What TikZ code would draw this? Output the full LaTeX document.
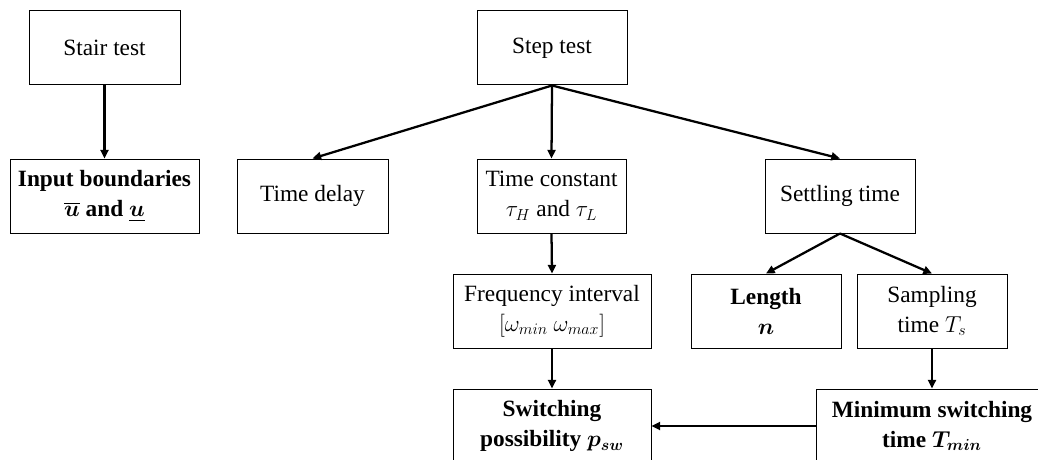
\documentclass[tikz,border=0pt]{standalone}
\usepackage{amsmath}
\usepackage{fontspec}
\setmainfont{Liberation Serif}
\usetikzlibrary{arrows.meta}
\tikzset{
  bx/.style={draw, line width=0.75pt, minimum width=#1*0.75pt, minimum height=55.5pt,
    inner sep=0pt, align=center, font=\fontsize{17.5pt}{22.5pt}\selectfont},
  arr/.style={line width=1.7pt, -{Triangle[length=6.5pt,width=6pt]}}
}
\begin{document}
\begin{tikzpicture}[x=0.75pt, y=-0.75pt]
\clip (0,0) rectangle (1038,460);
% top row
\node[bx=151] (stair) at (104.5,48) {Stair test};
\node[bx=150] (step) at (552,48) {Step test};
% second row
\node[bx=189] (input) at (104.5,196) {\textbf{Input boundaries}\\$\overline{\boldsymbol{u}}$ \textbf{and} $\underline{\boldsymbol{u}}$};
\node[bx=151] (delay) at (312.5,196) {Time delay};
\node[bx=149] (const) at (551.5,196) {Time constant\\$\tau_H$ and $\tau_L$};
\node[bx=150] (settle) at (840,196) {Settling time};
% third row
\node[bx=198] (freq) at (552,311) {Frequency interval\\$[\omega_{min}\ \omega_{max}]$};
\node[bx=150] (length) at (766,311) {\textbf{Length}\\$\boldsymbol{n}$};
\node[bx=150] (samp) at (932,311) {Sampling\\time $T_s$};
% bottom row
\node[bx=198] (switch) at (552,426) {\textbf{Switching}\\\textbf{possibility} $\boldsymbol{p_{sw}}$};
\node[bx=232] (minsw) at (932,426) {\textbf{Minimum switching}\\\textbf{time} $\boldsymbol{T_{min}}$};
% connectors
\draw[arr] (stair.south) -- (input.north);
\draw[arr] (step.south) -- (delay.north);
\draw[arr] (step.south) -- (const.north);
\draw[arr] (step.south) -- (settle.north);
\draw[arr] (const.south) -- (freq.north);
\draw[arr] (settle.south) -- (length.north);
\draw[arr] (settle.south) -- (samp.north);
\draw[arr] (freq.south) -- (switch.north);
\draw[arr] (samp.south) -- (minsw.north);
\draw[arr] (minsw.west) -- (switch.east);
\end{tikzpicture}
\end{document}
